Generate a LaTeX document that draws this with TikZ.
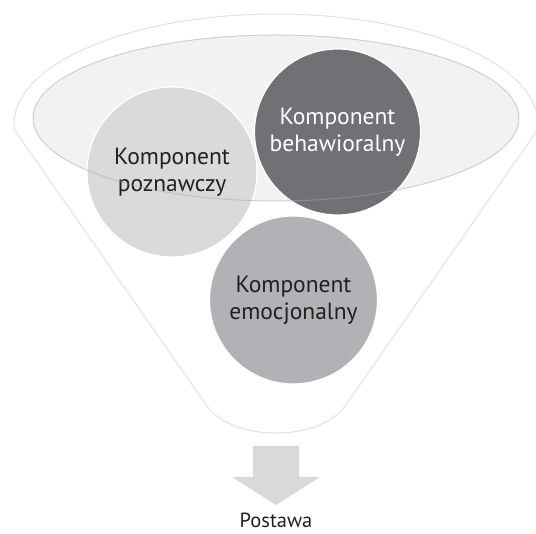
\documentclass[tikz,border=0pt]{standalone}
\usepackage{fontspec}
\setmainfont{PT Sans}
\usepackage{xcolor}
\usepackage{tikz}
\definecolor{ink}{HTML}{231F20}
\definecolor{rim}{HTML}{E1E1E1}
\definecolor{rimfill}{HTML}{F2F2F2}
\definecolor{rimedge}{HTML}{A8A8A8}
\definecolor{lightg}{HTML}{D9DADC}
\definecolor{midg}{HTML}{B1B2B5}
\definecolor{darkg}{HTML}{707174}
\definecolor{arrowg}{HTML}{D9D9DA}
\tikzset{
  funnelline/.style={draw=rim, line width=1pt},
  rimline/.style={draw=rimedge, draw opacity=0.5, line width=1pt},
  bubble/.style={circle, draw=white, line width=1.2pt, align=center, inner sep=0pt,
    font=\fontsize{23.5}{27}\selectfont, text=ink},
  lab/.style={text=ink, inner sep=0pt, font=\fontsize{20.5}{24}\selectfont},
}

\begin{document}
\begin{tikzpicture}[x=1pt,y=1pt]
  \useasboundingbox (0,0) rectangle (536,534);

  % funnel outline
  \draw[funnelline] (14.4,404.2) arc[start angle=183, end angle=-3, x radius=262, y radius=110]
    -- (345,128) .. controls (338,118) and (317,101) .. (276,101)
    .. controls (235,101) and (214,118) .. (207,128) -- cycle;

  % inner rim
  \fill[rimfill] (276,416) ellipse[x radius=243, y radius=83];

  \node[bubble, fill=lightg, minimum size=170pt] (cog) at (172,362) {Komponent\\poznawczy};
  \node[bubble, fill=darkg, minimum size=166pt, text=white] (beh) at (337.5,402) {Komponent\\behawioralny};
  \node[bubble, fill=midg, minimum size=168pt] (emo) at (293.5,234) {Komponent\\emocjonalny};

  \draw[rimline] (276,416) ellipse[x radius=243, y radius=83];

  % arrow to the result
  \fill[arrowg] (253,88) -- (299,88) -- (299,57) -- (320,57) -- (276,29) -- (232,57) -- (253,57) -- cycle;
  \node[lab, anchor=base] (att) at (276,6) {Postawa};
\end{tikzpicture}
\end{document}
